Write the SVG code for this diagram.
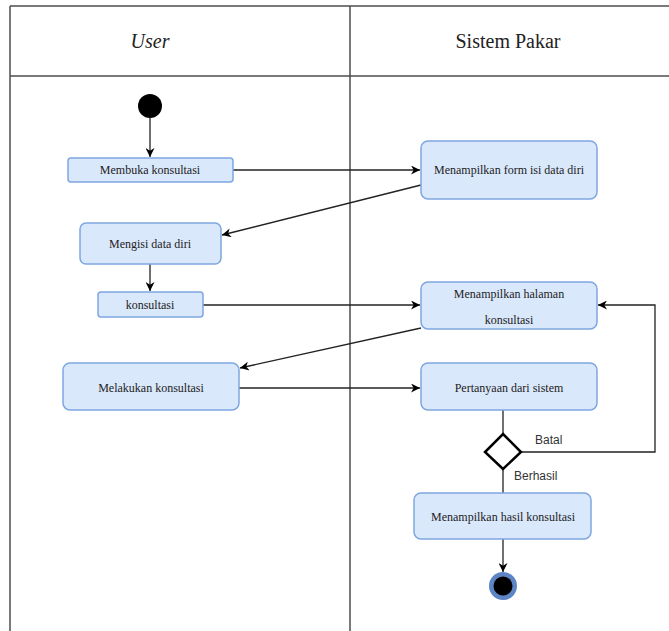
<svg xmlns="http://www.w3.org/2000/svg" width="669" height="631" viewBox="0 0 669 631">
<style>
.lane{stroke:#4d4d4d;stroke-width:1.5;fill:none}
.box{fill:#dae8fc;stroke:#7ea6e0;stroke-width:1.5}
.t{font-size:12px;fill:#222;text-anchor:middle;dominant-baseline:central}
.h{font-size:20px;fill:#222;text-anchor:middle;dominant-baseline:central}
.lbl{font-size:12px;fill:#333;dominant-baseline:central}
.c{stroke:#222;stroke-width:1.3;fill:none}
</style>
<defs>
<marker id="arr" viewBox="0 0 10 10" refX="10" refY="5" markerWidth="9" markerHeight="9" markerUnits="userSpaceOnUse" orient="auto">
<path d="M0,0 L10,5 L0,10 L3,5 Z" fill="#000"/>
</marker>
</defs>
<g id="lanes">
<line class="lane" x1="10" y1="6" x2="669" y2="6"/>
<line class="lane" x1="10" y1="76" x2="669" y2="76"/>
<line class="lane" x1="10" y1="6" x2="10" y2="631"/>
<line class="lane" x1="350" y1="6" x2="350" y2="631"/>
<g font-family="Liberation Serif, Times New Roman, serif">
<text class="h" x="150" y="41" font-style="italic">User</text>
<text class="h" x="508" y="41">Sistem Pakar</text>
</g>
</g>
<g id="connectors">
<line class="c" x1="150" y1="118" x2="150" y2="157" marker-end="url(#arr)"/>
<line class="c" x1="233" y1="170" x2="420" y2="170" marker-end="url(#arr)"/>
<line class="c" x1="421" y1="185" x2="222" y2="235" marker-end="url(#arr)"/>
<line class="c" x1="150" y1="264" x2="150" y2="291" marker-end="url(#arr)"/>
<line class="c" x1="203" y1="305" x2="420" y2="305" marker-end="url(#arr)"/>
<line class="c" x1="421" y1="328" x2="240" y2="368" marker-end="url(#arr)"/>
<line class="c" x1="239" y1="388" x2="420" y2="388" marker-end="url(#arr)"/>
<line class="c" x1="503" y1="410" x2="503" y2="434"/>
<polyline class="c" points="521,452 655,452 655,305 598,305" marker-end="url(#arr)"/>
<line class="c" x1="503" y1="469" x2="503" y2="493"/>
<line class="c" x1="503" y1="539" x2="503" y2="572" marker-end="url(#arr)"/>
<g font-family="Liberation Sans, Arial, sans-serif">
<text class="lbl" x="535" y="440">Batal</text>
<text class="lbl" x="514" y="476">Berhasil</text>
</g>
</g>
<g font-family="Liberation Serif, Times New Roman, serif">
<g id="start"><circle cx="150" cy="106" r="12" fill="#000"/></g>
<g id="n1"><rect class="box" x="68" y="158" width="165" height="24" rx="3"/><text class="t" x="150" y="170">Membuka konsultasi</text></g>
<g id="n2"><rect class="box" x="421" y="141" width="176" height="58" rx="7"/><text class="t" x="509" y="170">Menampilkan form isi data diri</text></g>
<g id="n3"><rect class="box" x="80" y="223" width="141" height="41" rx="6"/><text class="t" x="150" y="244">Mengisi data diri</text></g>
<g id="n4"><rect class="box" x="98" y="292" width="105" height="25" rx="3"/><text class="t" x="150" y="305">konsultasi</text></g>
<g id="n5"><rect class="box" x="421" y="282" width="176" height="47" rx="7"/><text class="t" x="509" y="294">Menampilkan halaman</text><text class="t" x="509" y="320">konsultasi</text></g>
<g id="n6"><rect class="box" x="63" y="363" width="176" height="47" rx="7"/><text class="t" x="151" y="388">Melakukan konsultasi</text></g>
<g id="n7"><rect class="box" x="421" y="363" width="176" height="47" rx="7"/><text class="t" x="509" y="388">Pertanyaan dari sistem</text></g>
<g id="decision"><polygon points="503,434 521,452 503,469 485,452" fill="#fff" stroke="#000" stroke-width="2.5"/></g>
<g id="n8"><rect class="box" x="414" y="493" width="177" height="46" rx="7"/><text class="t" x="503" y="517">Menampilkan hasil konsultasi</text></g>
<g id="end"><circle cx="503" cy="586" r="14" fill="#5d84c4"/><circle cx="503" cy="586" r="9.5" fill="#000"/></g>
</g>
</svg>
